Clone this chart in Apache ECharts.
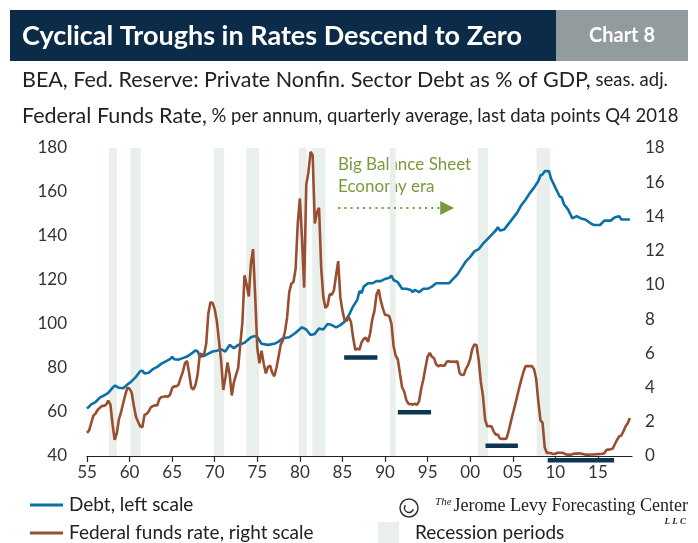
<!DOCTYPE html>
<html><head><meta charset="utf-8">
<script src="https://cdn.jsdelivr.net/npm/echarts@6/dist/echarts.min.js"></script>
<style>html,body{margin:0;padding:0;background:#fff;}#c{width:698px;height:543px;}</style>
</head><body><div id="c"></div>
<script>
// Debt, % of GDP (left scale): [year, value]
const debtYears = [1955.0,1955.5,1956.0,1956.5,1957.0,1957.5,1958.0,1958.3,1958.75,1959.25,1959.75,1960.25,1960.75,1961.25,1961.5,1961.75,1962.25,1962.75,1963.25,1963.75,1964.25,1964.75,1965.0,1965.25,1965.75,1966.25,1966.75,1967.25,1967.75,1968.0,1968.25,1968.75,1969.25,1969.75,1970.25,1970.75,1971.25,1971.75,1972.25,1972.75,1973.5,1974.25,1974.75,1975.0,1975.5,1976.25,1977.0,1977.5,1978.0,1978.75,1979.5,1980.25,1980.75,1981.25,1981.75,1982.25,1982.75,1983.25,1983.75,1984.25,1984.75,1985.25,1985.75,1986.25,1986.75,1987.0,1987.25,1987.5,1988.0,1988.5,1989.0,1989.5,1990.0,1990.5,1990.75,1991.0,1991.5,1992.0,1992.5,1993.0,1993.25,1993.5,1994.0,1994.5,1995.0,1995.5,1996.0,1996.5,1997.0,1997.5,1998.0,1998.5,1999.0,1999.5,2000.0,2000.5,2001.0,2001.5,2002.0,2002.5,2003.0,2003.25,2003.5,2004.0,2004.5,2005.0,2005.5,2006.0,2006.5,2007.0,2007.5,2008.0,2008.25,2008.5,2008.75,2009.25,2009.5,2010.0,2010.5,2010.75,2011.0,2011.5,2012.0,2012.5,2013.0,2013.5,2014.25,2014.5,2015.25,2015.75,2016.5,2017.0,2017.5,2017.75,2018.75];
const debtValues = [61.5,63.5,64.5,66.5,67.5,68.7,71.0,72.0,71.0,70.8,72.5,74.0,76.0,78.5,78.8,77.5,77.8,79.5,80.5,82.0,83.0,84.0,85.0,84.0,83.8,84.5,85.2,86.5,88.0,87.5,85.2,85.5,86.5,87.5,87.8,88.5,87.5,90.5,89.0,90.5,91.5,94.0,94.5,94.0,91.0,90.5,91.0,92.0,93.5,94.0,96.0,98.5,97.5,95.0,95.5,98.0,97.5,100.0,99.5,98.5,99.5,101.0,104.0,108.0,111.0,115.0,114.0,117.0,118.5,118.5,119.5,119.5,120.5,121.0,122.0,120.0,119.0,116.0,116.0,115.5,114.5,115.5,114.5,116.0,116.0,117.0,118.5,118.5,118.5,118.5,120.5,122.5,125.5,128.5,130.5,133.0,134.0,136.5,138.5,140.5,142.5,144.0,142.5,143.0,145.5,148.0,150.5,154.0,156.5,159.5,162.0,165.0,167.5,168.0,169.5,169.5,166.0,162.0,158.0,157.5,154.5,152.0,148.0,149.0,148.0,147.5,145.5,145.0,145.0,147.0,147.0,148.5,149.0,147.5,147.5];

// Federal funds rate, % (right scale), quarterly from 1955 Q1 to 2018 Q4
const rateStart = 1955;
const rateValues = [
1.35,1.50,1.94,2.36, 2.48,2.69,2.81,2.93, 2.93,3.00,3.23,3.00, 1.86,0.94,1.32,2.16,
2.57,3.08,3.58,3.99, 3.93,3.70,2.94,2.30, 2.00,1.73,1.68,2.40, 2.46,2.61,2.85,2.92,
2.97,2.96,3.33,3.45, 3.46,3.49,3.46,3.58, 3.97,4.08,4.07,4.17, 4.56,4.91,5.41,5.56,
4.82,3.99,3.89,4.17, 4.79,5.98,5.94,5.92, 6.57,8.33,8.98,8.94, 8.57,7.88,6.71,5.57,
3.86,4.56,5.47,4.75, 3.54,4.30,4.74,5.14, 6.54,7.82,10.56,10.00, 9.32,11.25,12.09,9.35,
6.30,5.42,6.16,5.41, 4.83,5.20,5.28,4.87, 4.66,5.16,5.82,6.51, 6.76,7.28,8.10,9.58,
10.07,10.18,10.95,13.58, 15.05,12.69,9.84,15.85, 16.57,17.78,17.58,13.59, 14.23,14.51,11.01,9.29,
8.65,8.80,9.46,9.43, 9.69,10.56,11.39,9.27, 8.48,7.92,7.90,8.10, 7.83,6.92,6.21,6.27,
6.22,6.65,6.84,6.92, 6.66,7.16,7.98,8.47, 9.44,9.73,9.08,8.61, 8.25,8.24,8.16,7.74,
6.43,5.86,5.64,4.82, 4.02,3.77,3.26,3.04, 3.04,3.00,3.06,2.99, 3.21,3.94,4.49,5.17,
5.81,6.02,5.80,5.72, 5.36,5.24,5.31,5.28, 5.28,5.52,5.53,5.51, 5.52,5.50,5.53,4.86,
4.73,4.75,5.09,5.31, 5.68,6.27,6.52,6.47, 5.59,4.33,3.50,2.13, 1.73,1.75,1.74,1.44,
1.25,1.25,1.02,1.00, 1.00,1.01,1.43,1.95, 2.47,2.94,3.46,3.98, 4.46,4.91,5.25,5.25,
5.26,5.25,5.07,4.50, 3.18,2.09,1.94,0.51, 0.18,0.18,0.16,0.12, 0.13,0.19,0.19,0.19,
0.16,0.09,0.08,0.07, 0.10,0.15,0.14,0.16, 0.14,0.12,0.08,0.09, 0.07,0.09,0.09,0.10,
0.11,0.12,0.13,0.16, 0.36,0.37,0.39,0.45, 0.70,0.95,1.15,1.20, 1.45,1.74,1.92,2.22];

// Recession periods [start, end]
const recessions = [[1957.6,1958.5],[1960.1,1961.3],[1969.9,1971.1],[1973.7,1975.2],[1979.9,1980.8],[1981.45,1983.0],[1990.55,1991.25],[2000.9,2002.1],[2007.8,2009.4]];

// Cyclical trough markers on the rate scale: [start, end, level]
const troughs = [[1985.2,1989.1,5.75],[1991.5,1995.4,2.55],[2001.8,2005.6,0.6],[2009.1,2016.9,-0.25]];

// Tick labels
const xTicks = [1955,1960,1965,1970,1975,1980,1985,1990,1995,2000,2005,2010,2015];

// Era arrow (rate scale)
const eraArrow = [[1984.5,14.5],[1997.3,14.5]];

const debtData = debtYears.map((y,i)=>[y,debtValues[i]]);
const rateData = rateValues.map((v,i)=>[rateStart+i/4,v]);

const FONT = 'Lato, "Noto Sans", sans-serif';
const SERIF = '"Liberation Serif", "DejaVu Serif", serif';
const DEBT_C = '#0a70a6', RATE_C = '#994e30';
const chart = echarts.init(document.getElementById('c'));

const troughSeries = troughs.map(t=>({
  type:'line', yAxisIndex:1, data:[[t[0],t[2]],[t[1],t[2]]], symbol:'none', clip:false,
  lineStyle:{color:'#0e3552',width:4.5}, silent:true, z:4
}));

chart.setOption({
  animation:false,
  grid:{left:87,right:66,top:148,bottom:87},
  xAxis:{type:'value',min:1955,max:2019,
    axisLine:{show:true,lineStyle:{color:'#222',width:1.2}},
    axisTick:{show:true,length:6,lineStyle:{color:'#222',width:1.2},customValues:xTicks},
    axisLabel:{customValues:xTicks,formatter:v=>String(v%100).padStart(2,'0'),color:'#333',fontSize:17,fontFamily:FONT,margin:8},
    splitLine:{show:false}},
  yAxis:[
    {type:'value',min:40,max:180,interval:20,position:'left',
      axisLine:{show:false},axisTick:{show:false},splitLine:{show:false},
      axisLabel:{color:'#333',fontSize:17,fontFamily:FONT,margin:20}},
    {type:'value',min:0,max:18,interval:2,position:'right',
      axisLine:{show:false},axisTick:{show:false},splitLine:{show:false},
      axisLabel:{color:'#333',fontSize:17,fontFamily:FONT,margin:13}}
  ],
  series:[
    {name:'Debt, left scale',type:'line',yAxisIndex:0,data:debtData,symbol:'none',
      lineStyle:{color:DEBT_C,width:2.6},itemStyle:{color:DEBT_C},z:3,
      markArea:{silent:true,itemStyle:{color:'#e9efeb'},data:recessions.map(r=>[{xAxis:r[0]},{xAxis:r[1]}])}},
    {name:'Federal funds rate, right scale',type:'line',yAxisIndex:1,data:rateData,symbol:'none',
      lineStyle:{color:RATE_C,width:2.6},itemStyle:{color:RATE_C},z:3,
      markLine:{silent:true,symbol:['none','triangle'],symbolSize:[14,14],
        lineStyle:{color:'#7b9a3c',width:2.2,type:[2,4.2]},label:{show:false},
        data:[[{coord:eraArrow[0]},{coord:eraArrow[1]}]]}}
  ].concat(troughSeries),
  graphic:[
    {type:'rect',shape:{x:10,y:10,width:546,height:51},style:{fill:'#0c2b48'}},
    {type:'rect',shape:{x:556,y:10,width:132,height:51},style:{fill:'#929c9e'}},
    {type:'text',x:22,y:36,style:{text:'Cyclical Troughs in Rates Descend to Zero',fill:'#fff',font:'bold 27px '+FONT,verticalAlign:'middle'}},
    {type:'text',x:622,y:36,style:{text:'Chart 8',fill:'#fff',font:'bold 20px '+FONT,align:'center',verticalAlign:'middle'}},
    {type:'text',x:22,y:80,style:{rich:{a:{fontSize:21.5,fontFamily:FONT,fill:'#222'},b:{fontSize:18.5,fontFamily:FONT,fill:'#222'}},
      text:'{a|BEA, Fed. Reserve: Private Nonfin. Sector Debt as % of GDP,}{b| seas. adj.}',verticalAlign:'middle'}},
    {type:'text',x:22,y:116,style:{rich:{a:{fontSize:21.5,fontFamily:FONT,fill:'#222'},b:{fontSize:18.5,fontFamily:FONT,fill:'#222'}},
      text:'{a|Federal Funds Rate,}{b| % per annum, quarterly average, last data points Q4 2018}',verticalAlign:'middle'}},
    {type:'text',x:338,y:165,style:{text:'Big Balance Sheet',fill:'#7b9a3c',font:'17px '+FONT,verticalAlign:'middle'}},
    {type:'text',x:338,y:187,style:{text:'Economy era',fill:'#7b9a3c',font:'17px '+FONT,verticalAlign:'middle'}},
    // legend
    {type:'rect',shape:{x:30,y:503.5,width:33,height:3},style:{fill:DEBT_C}},
    {type:'text',x:69,y:505,style:{text:'Debt, left scale',fill:'#222',font:'19px '+FONT,verticalAlign:'middle'}},
    {type:'rect',shape:{x:30,y:531.5,width:33,height:3},style:{fill:RATE_C}},
    {type:'text',x:69,y:533,style:{text:'Federal funds rate, right scale',fill:'#222',font:'19px '+FONT,verticalAlign:'middle'}},
    {type:'rect',shape:{x:378,y:522,width:21,height:21},style:{fill:'#e9efeb'}},
    {type:'text',x:415,y:533,style:{text:'Recession periods',fill:'#222',font:'19px '+FONT,verticalAlign:'middle'}},
    // logo
    {type:'circle',shape:{cx:409,cy:508,r:9},style:{fill:'none',stroke:'#333',lineWidth:1.5}},
    {type:'arc',shape:{cx:409,cy:508,r:4.5,startAngle:0.3,endAngle:3.8},style:{fill:'none',stroke:'#333',lineWidth:1.5}},
    {type:'text',x:688,y:506,style:{rich:{t:{fontSize:11,fontStyle:'italic',fontFamily:SERIF,fill:'#222',padding:[0,2,8,0]},
      n:{fontSize:18,fontFamily:SERIF,fill:'#222'}},text:'{t|The}{n|Jerome Levy Forecasting Center}',align:'right',verticalAlign:'middle'}},
    {type:'text',x:686,y:522,style:{text:'L L C',fill:'#222',font:'italic bold 9px '+SERIF,align:'right',verticalAlign:'middle'}}
  ]
});
</script></body></html>
